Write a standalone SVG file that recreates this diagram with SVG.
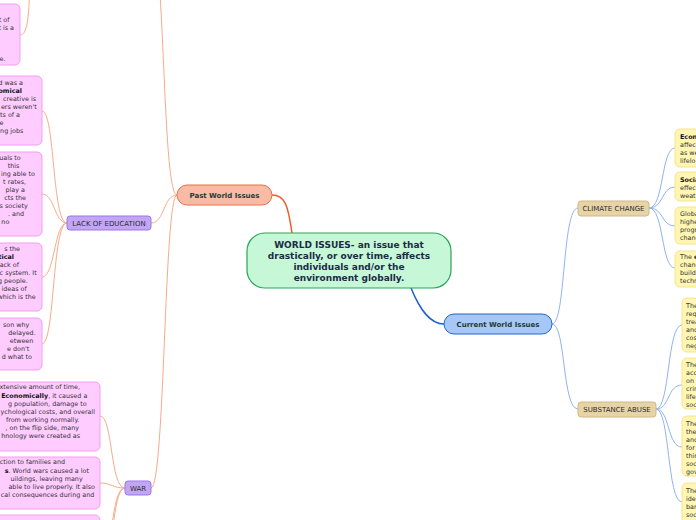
<svg xmlns="http://www.w3.org/2000/svg" width="696" height="520" viewBox="0 0 696 520">
<style>
.t{font-family:"DejaVu Sans","Verdana",sans-serif;font-size:6.4px;fill:#333333}
.te{font-family:"DejaVu Sans","Verdana",sans-serif;font-size:6.4px;fill:#333333;text-anchor:end}
.b{font-weight:bold;fill:#111111}
.pink{fill:#ffccff;stroke:#f59cf0;stroke-width:1}
.yel{fill:#fff6b3;stroke:#f7e48a;stroke-width:1}
.lav{fill:#c2a6f5;stroke:#9b78e6;stroke-width:1}
.tan{fill:#e6d4a7;stroke:#d2b883;stroke-width:1}
.lbl{font-family:"DejaVu Sans","Verdana",sans-serif;font-size:7px;fill:#2d2d2d;text-anchor:middle}
.co{fill:none;stroke:#f8ab8a;stroke-width:1}
.cb{fill:none;stroke:#8fb4f0;stroke-width:1}
</style>
<g id="connectors">
<path d="M292,233 C288,205 285,195 272,195" fill="none" stroke="#f05a28" stroke-width="1.5"/>
<path d="M411,288 C420,310 430,324 444,324" fill="none" stroke="#1f5fcf" stroke-width="1.5"/>
<path class="co" d="M177,195 C166,195 165,60 159,-20"/>
<path class="co" d="M177,195 C163,195 165,223 151,223"/>
<path class="co" d="M177,195 C164,195 165,488 151,488"/>
<path class="co" d="M30,-20 C29,20 27,35 20,35"/>
<path class="co" d="M67,223 C52,223 55,111 42,111"/>
<path class="co" d="M67,223 C54,223 55,194 42,194"/>
<path class="co" d="M67,223 C54,223 55,277 42,277"/>
<path class="co" d="M67,223 C52,223 55,344 42,344"/>
<path class="co" d="M125,488 C110,488 113,416 100,416"/>
<path class="co" d="M125,488 C112,488 112,483 100,483"/>
<path class="co" d="M125,488 C110,488 114,560 100,560"/>
<path class="co" d="M125,488 C108,488 112,620 100,620"/>
<path class="cb" d="M552,324 C566,324 562,208 578,208"/>
<path class="cb" d="M552,324 C566,324 562,409 578,409"/>
<path class="cb" d="M649,208 C664,208 661,148 675,148"/>
<path class="cb" d="M649,208 C664,208 661,187 675,187"/>
<path class="cb" d="M649,208 C664,208 661,226 675,226"/>
<path class="cb" d="M649,208 C664,208 661,268 675,268"/>
<path class="cb" d="M656,409 C670,409 667,325 682,325"/>
<path class="cb" d="M656,409 C670,409 667,385 682,385"/>
<path class="cb" d="M656,409 C670,409 667,447 682,447"/>
<path class="cb" d="M656,409 C670,409 667,502 682,502"/>
</g>
<g id="central">
<rect x="247" y="233" width="204" height="55" rx="18" fill="#c6f8d7" stroke="#2aa55a" stroke-width="1.2"/>
<g font-family="DejaVu Sans, Verdana, sans-serif" font-size="9" font-weight="bold" fill="#1b2a4a" text-anchor="middle">
<text x="349" y="248">WORLD ISSUES- an issue that</text>
<text x="349" y="259">drastically, or over time, affects</text>
<text x="349" y="270">individuals and/or the</text>
<text x="349" y="281">environment globally.</text>
</g>
</g>
<g id="past">
<rect x="177" y="185" width="95" height="20" rx="10" fill="#f9bba6" stroke="#e8704a" stroke-width="1"/>
<text x="224.5" y="197.5" font-family="DejaVu Sans, Verdana, sans-serif" font-size="7" font-weight="bold" fill="#1f3b35" text-anchor="middle">Past World Issues</text>
</g>
<g id="current">
<rect x="444" y="314" width="108" height="20" rx="10" fill="#a7c7f7" stroke="#2266cc" stroke-width="1"/>
<text x="498" y="326.5" font-family="DejaVu Sans, Verdana, sans-serif" font-size="7" font-weight="bold" fill="#1f3b35" text-anchor="middle">Current World Issues</text>
</g>
<g id="lack-of-education">
<rect class="lav" x="67" y="216" width="84" height="14" rx="3"/>
<text class="lbl" x="109" y="225.5">LACK OF EDUCATION</text>
</g>
<g id="war">
<rect class="lav" x="125" y="481" width="26" height="14" rx="3"/>
<text class="lbl" x="138" y="490.5">WAR</text>
</g>
<g id="climate-change">
<rect class="tan" x="578" y="201" width="71" height="15" rx="3"/>
<text class="lbl" x="613.5" y="210.8">CLIMATE CHANGE</text>
</g>
<g id="substance-abuse">
<rect class="tan" x="578" y="402" width="78" height="15" rx="3"/>
<text class="lbl" x="617" y="411.8">SUBSTANCE ABUSE</text>
</g>
<g id="box-top">
<rect class="pink" x="-80" y="4" width="100" height="61" rx="5"/>
<text class="te" x="9.5" y="21.5">t of</text>
<text class="te" x="14" y="29.5">t is a</text>
<text class="te" x="5.5" y="60.5">e.</text>
</g>
<g id="edu-1">
<rect class="pink" x="-100" y="76" width="142" height="69" rx="5"/>
<text class="te" x="23" y="84.5">d was a</text>
<text class="te b" x="22" y="92.5">omical</text>
<text class="te" x="36" y="100.5">creative is</text>
<text class="te" x="36.7" y="108.5">ers weren't</text>
<text class="te" x="20" y="116.5">ts of a</text>
<text class="te" x="3.5" y="124.5">e</text>
<text class="te" x="23.3" y="132.5">ng jobs</text>
</g>
<g id="edu-2">
<rect class="pink" x="-100" y="152" width="142" height="84" rx="5"/>
<text class="te" x="20.7" y="159.5">uals to</text>
<text class="te" x="19.3" y="167.5">this</text>
<text class="te" x="35" y="175.5">ing able to</text>
<text class="te" x="26" y="183.5">t rates,</text>
<text class="te" x="25" y="191.5">play a</text>
<text class="te" x="26" y="199.5">cts the</text>
<text class="te" x="27.7" y="207.5">s society</text>
<text class="te" x="24" y="215.5">. and</text>
<text class="te" x="9.3" y="223.5">no</text>
</g>
<g id="edu-3">
<rect class="pink" x="-100" y="243" width="142" height="68" rx="5"/>
<text class="te" x="20" y="251">s the</text>
<text class="te b" x="14" y="259">tical</text>
<text class="te" x="19" y="267">ack of</text>
<text class="te" x="36.7" y="275">c system. It</text>
<text class="te" x="27.7" y="283">g people.</text>
<text class="te" x="26.7" y="291">ideas of</text>
<text class="te" x="35.7" y="299">which is the</text>
</g>
<g id="edu-4">
<rect class="pink" x="-100" y="318" width="142" height="52" rx="5"/>
<text class="te" x="29.3" y="326.5">son why</text>
<text class="te" x="35.7" y="334.5">delayed.</text>
<text class="te" x="33.3" y="342.5">etween</text>
<text class="te" x="29.3" y="350.5">e don't</text>
<text class="te" x="32" y="358.5">d what to</text>
</g>
<g id="war-1">
<rect class="pink" x="-100" y="382" width="200" height="69" rx="5"/>
<text class="te" x="80" y="389">xtensive amount of time,</text>
<text class="te" x="87.3" y="397.5"><tspan class="b">Economically</tspan>, it caused a</text>
<text class="te" x="86.7" y="405.5">g population, damage to</text>
<text class="te" x="95" y="413.5">ychological costs, and overall</text>
<text class="te" x="79.3" y="421.5">from working normally.</text>
<text class="te" x="79" y="429.5">, on the flip side, many</text>
<text class="te" x="80" y="437.5">hnology were created as</text>
</g>
<g id="war-2">
<rect class="pink" x="-100" y="457" width="200" height="52" rx="5"/>
<text class="te" x="65" y="464">ction to families and</text>
<text class="te" x="89" y="472.5"><tspan class="b">s</tspan>. World wars caused a lot</text>
<text class="te" x="82.7" y="480.5">uildings, leaving many</text>
<text class="te" x="95" y="488.5">able to live properly. It also</text>
<text class="te" x="94.3" y="496.5">cal consequences during and</text>
</g>
<g id="war-3">
<rect class="pink" x="-100" y="515" width="200" height="60" rx="5"/>
</g>
<g id="cc-1">
<rect class="yel" x="675" y="129" width="60" height="38" rx="5"/>
<text class="t b" x="680" y="139">Econ</text>
<text class="t" x="680" y="147">affec</text>
<text class="t" x="680" y="155">as we</text>
<text class="t" x="680" y="163">lifelo</text>
</g>
<g id="cc-2">
<rect class="yel" x="675" y="172" width="60" height="29" rx="5"/>
<text class="t b" x="680" y="182">Socia</text>
<text class="t" x="680" y="190">effec</text>
<text class="t" x="680" y="198">weat</text>
</g>
<g id="cc-3">
<rect class="yel" x="675" y="207" width="60" height="37" rx="5"/>
<text class="t" x="680" y="216">Globa</text>
<text class="t" x="680" y="224">highe</text>
<text class="t" x="680" y="232">progr</text>
<text class="t" x="680" y="240">chang</text>
</g>
<g id="cc-4">
<rect class="yel" x="675" y="251" width="60" height="36" rx="5"/>
<text class="t" x="680" y="259">The <tspan class="b">e</tspan></text>
<text class="t" x="680" y="267">chang</text>
<text class="t" x="680" y="275">build</text>
<text class="t" x="680" y="283">techn</text>
</g>
<g id="sa-1">
<rect class="yel" x="682" y="298" width="60" height="54" rx="5"/>
<text class="t" x="686" y="308">The</text>
<text class="t" x="686" y="316">requ</text>
<text class="t" x="686" y="324">trea</text>
<text class="t" x="686" y="332">and</text>
<text class="t" x="686" y="340">cos</text>
<text class="t" x="686" y="348">neg</text>
</g>
<g id="sa-2">
<rect class="yel" x="682" y="358" width="60" height="51" rx="5"/>
<text class="t" x="686" y="367">The</text>
<text class="t" x="686" y="375">acc</text>
<text class="t" x="686" y="383">on</text>
<text class="t" x="686" y="391">crin</text>
<text class="t" x="686" y="399">life,</text>
<text class="t" x="686" y="407">soc</text>
</g>
<g id="sa-3">
<rect class="yel" x="682" y="416" width="60" height="60" rx="5"/>
<text class="t" x="686" y="426">The</text>
<text class="t" x="686" y="434">the</text>
<text class="t" x="686" y="442">and</text>
<text class="t" x="686" y="450">for</text>
<text class="t" x="686" y="458">thin</text>
<text class="t" x="686" y="466">soc</text>
<text class="t" x="686" y="474">gov</text>
</g>
<g id="sa-4">
<rect class="yel" x="682" y="483" width="60" height="50" rx="5"/>
<text class="t" x="686" y="493">The</text>
<text class="t" x="686" y="501">ide</text>
<text class="t" x="686" y="509">bar</text>
<text class="t" x="686" y="517">soc</text>
</g>
</svg>
